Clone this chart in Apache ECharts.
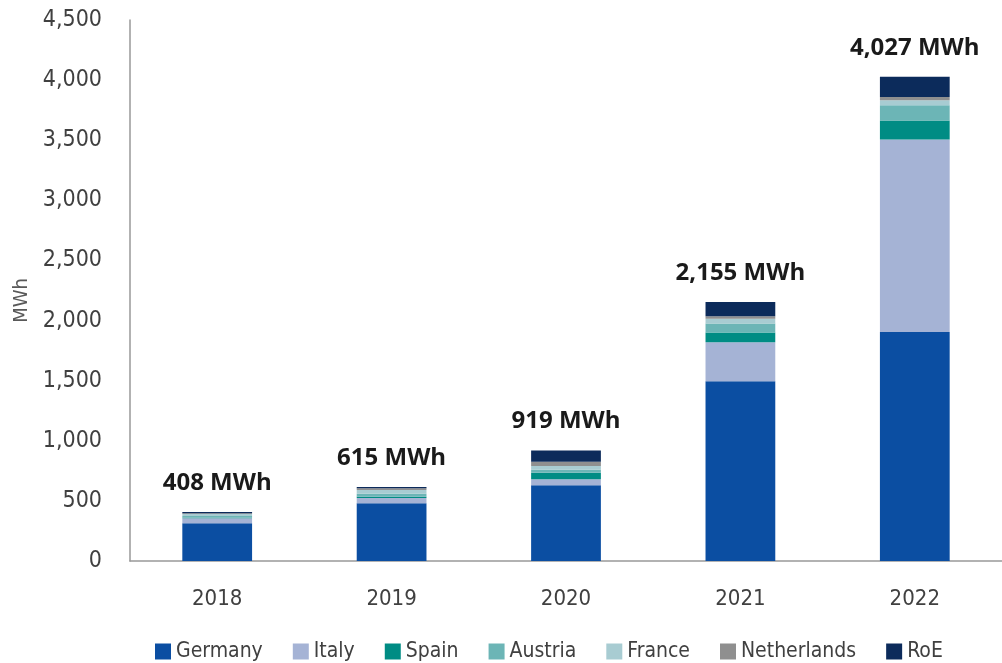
<!DOCTYPE html>
<html>
<head>
<meta charset="utf-8">
<script src="https://cdn.jsdelivr.net/npm/echarts@6/dist/echarts.min.js"></script>
<style>html,body{margin:0;padding:0;background:#fff}#c{width:1002px;height:663px}</style>
</head>
<body>
<div id="c"></div>
<script>
const years = ['2018', '2019', '2020', '2021', '2022'];
const germany = [315, 480, 630, 1495, 1905];
const italy = [40, 45, 50, 325, 1600];
const spain = [5, 10, 55, 80, 160];
const austria = [15, 25, 25, 75, 125];
const france = [15, 30, 30, 40, 42];
const netherlands = [8, 15, 35, 20, 28];
const roe = [10, 10, 94, 120, 167];
const totals = [408, 615, 919, 2155, 4027];
const totalLabels = ['408 MWh', '615 MWh', '919 MWh', '2,155 MWh', '4,027 MWh'];
const yTicks = [0, 500, 1000, 1500, 2000, 2500, 3000, 3500, 4000, 4500];

const seriesDefs = [
  ['Germany', germany, '#0b4ea2'],
  ['Italy', italy, '#a5b3d5'],
  ['Spain', spain, '#008c84'],
  ['Austria', austria, '#6cb5b6'],
  ['France', france, '#a8ccd2'],
  ['Netherlands', netherlands, '#8f8f8f'],
  ['RoE', roe, '#0c2b5b']
];

const axisFont = "'DejaVu Sans Condensed', 'Open Sans', sans-serif";
const chart = echarts.init(document.getElementById('c'), null, {renderer: 'canvas'});
const series = seriesDefs.map(([name, data, color], i) => {
  const s = {
    name, type: 'bar', stack: 'total', data,
    barWidth: '40%',
    itemStyle: {color},
    emphasis: {disabled: true}
  };
  if (i === seriesDefs.length - 1) {
    s.label = {
      show: true, position: 'top', distance: 17,
      formatter: p => totalLabels[p.dataIndex],
      fontFamily: 'Open Sans', fontWeight: 'bold', fontSize: 24, color: '#1a1a1a'
    };
  }
  return s;
});

chart.setOption({
  animation: false,
  grid: {left: 130, right: -8, top: 20, bottom: 102, containLabel: false},
  legend: {
    left: 150, top: 636, icon: 'rect', itemWidth: 16, itemHeight: 16, itemGap: 30,
    textStyle: {fontFamily: axisFont, fontSize: 21, color: '#404040'},
    data: seriesDefs.map(d => d[0])
  },
  xAxis: {
    type: 'category', data: years,
    axisLine: {lineStyle: {color: '#999', width: 1.5}},
    axisTick: {show: false},
    axisLabel: {fontFamily: axisFont, fontSize: 22, color: '#404040', margin: 27}
  },
  yAxis: {
    type: 'value', min: 0, max: 4500, interval: 500,
    name: 'MWh', nameLocation: 'middle', nameGap: 94,
    nameTextStyle: {fontFamily: axisFont, fontSize: 20, color: '#595959', padding: [0, 0, 0, -20]},
    axisLine: {show: true, lineStyle: {color: '#999', width: 1.5}},
    axisTick: {show: false},
    splitLine: {show: false},
    axisLabel: {
      fontFamily: axisFont, fontSize: 23, color: '#404040', margin: 28,
      formatter: v => yTicks.includes(v) ? v.toLocaleString('en-US') : ''
    }
  },
  series
});
</script>
</body>
</html>
